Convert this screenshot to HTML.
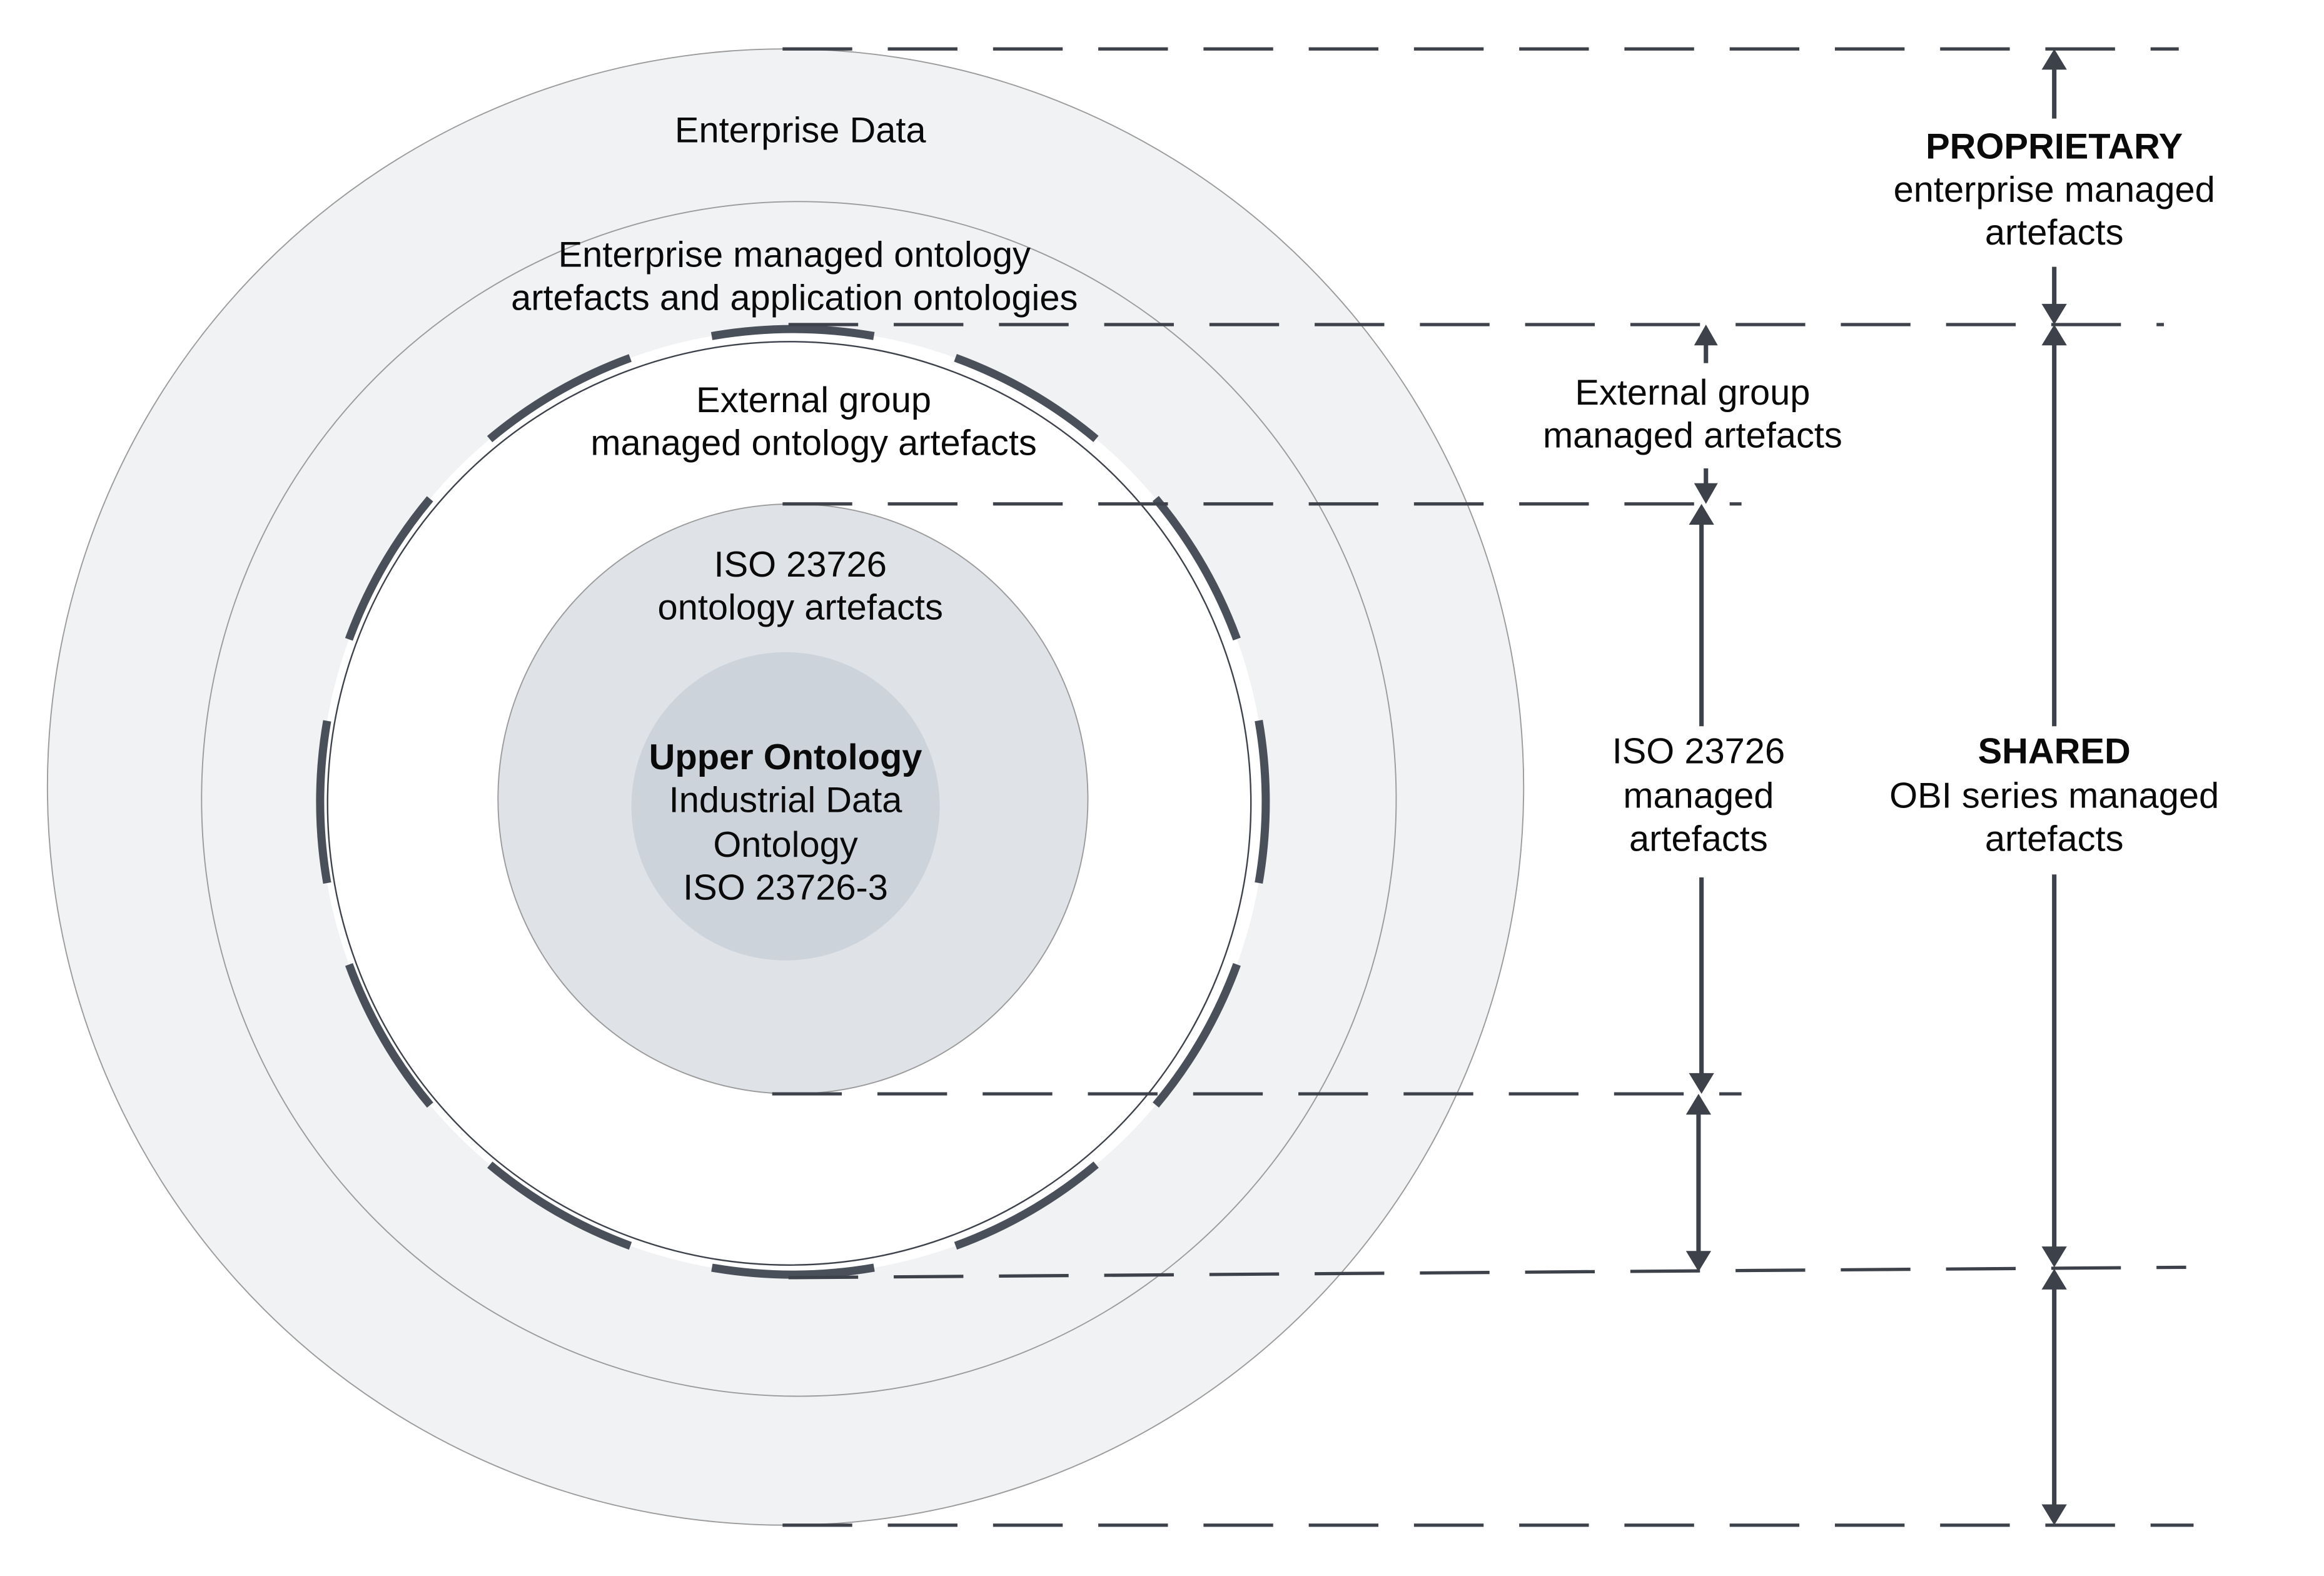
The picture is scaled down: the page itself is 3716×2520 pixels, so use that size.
<!DOCTYPE html>
<html><head><meta charset="utf-8"><style>
html,body{margin:0;padding:0;background:#fff;}
svg{display:block;}
text{font-family:"Liberation Sans",Arial,sans-serif;font-size:24.4px;fill:#0a0a0a;text-anchor:middle;}
.b{font-weight:bold;}
.d{stroke:#3d424a;stroke-width:2.2;stroke-dasharray:47 24;fill:none;}
.a{stroke:#3d424a;stroke-width:3;fill:none;}
.h{fill:#3d424a;}
</style></head><body>
<svg width="3716" height="2520" viewBox="0 0 1568 1063.3" preserveAspectRatio="none" xmlns="http://www.w3.org/2000/svg">
<rect width="1568" height="1063.3" fill="#fff"/>
<circle cx="530" cy="531" r="498" fill="#f1f2f3" stroke="#9b9b9b" stroke-width="0.8"/>
<circle cx="539" cy="539" r="403" fill="#f1f2f3" stroke="#9b9b9b" stroke-width="0.8"/>
<circle cx="535" cy="541" r="319" fill="#fff"/>
<circle cx="532.5" cy="542" r="311.5" fill="#fff" stroke="#3d424a" stroke-width="1"/>
<circle cx="535" cy="541" r="319" fill="none" stroke="#4a505a" stroke-width="5.5" stroke-dasharray="110 57" stroke-dashoffset="55"/>
<circle cx="535" cy="539" r="199" fill="#dfe2e6" stroke="#9b9b9b" stroke-width="0.8"/>
<circle cx="530" cy="544" r="104" fill="#cdd3db"/>

<line class="d" x1="528" y1="33" x2="1470" y2="33"/>
<line class="d" x1="532" y1="219" x2="1460" y2="219"/>
<line class="d" x1="528" y1="340" x2="1175" y2="340"/>
<line class="d" x1="521" y1="738" x2="1175" y2="738"/>
<line class="d" x1="532" y1="862" x2="1475" y2="855"/>
<line class="d" x1="528" y1="1029" x2="1480" y2="1029"/>

<line class="a" x1="1386" y1="45" x2="1386" y2="80"/>
<polygon class="h" points="1377.5,47 1386,33 1394.5,47"/>
<line class="a" x1="1386" y1="180" x2="1386" y2="207"/>
<polygon class="h" points="1377.5,205 1386,219 1394.5,205"/>

<line class="a" x1="1386" y1="231" x2="1386" y2="490"/>
<polygon class="h" points="1377.5,233 1386,219 1394.5,233"/>
<line class="a" x1="1386" y1="590" x2="1386" y2="843"/>
<polygon class="h" points="1377.5,841 1386,855 1394.5,841"/>

<line class="a" x1="1386" y1="868" x2="1386" y2="1017"/>
<polygon class="h" points="1377.5,870 1386,856 1394.5,870"/>
<polygon class="h" points="1377.5,1015 1386,1029 1394.5,1015"/>

<line class="a" x1="1151" y1="231" x2="1151" y2="245"/>
<polygon class="h" points="1143,233 1151,219 1159,233"/>
<line class="a" x1="1151" y1="316" x2="1151" y2="328"/>
<polygon class="h" points="1143,326 1151,340 1159,326"/>

<line class="a" x1="1148" y1="352" x2="1148" y2="490"/>
<polygon class="h" points="1139.5,354 1148,340 1156.5,354"/>
<line class="a" x1="1148" y1="592" x2="1148" y2="726"/>
<polygon class="h" points="1139.5,724 1148,738 1156.5,724"/>

<line class="a" x1="1146" y1="750" x2="1146" y2="846"/>
<polygon class="h" points="1137.5,752 1146,738 1154.5,752"/>
<polygon class="h" points="1137.5,844 1146,858 1154.5,844"/>

<text x="540" y="96">Enterprise Data</text>
<text x="536" y="180">Enterprise managed ontology</text>
<text x="536" y="209">artefacts and application ontologies</text>
<text x="549" y="278">External group</text>
<text x="549" y="307">managed ontology artefacts</text>
<text x="540" y="389">ISO 23726</text>
<text x="540" y="418">ontology artefacts</text>
<text class="b" x="530" y="519">Upper Ontology</text>
<text x="530" y="548">Industrial Data</text>
<text x="530" y="578">Ontology</text>
<text x="530" y="607">ISO 23726-3</text>
<text class="b" x="1386" y="107">PROPRIETARY</text>
<text x="1386" y="136">enterprise managed</text>
<text x="1386" y="165">artefacts</text>
<text x="1142" y="273">External group</text>
<text x="1142" y="302">managed artefacts</text>
<text x="1146" y="515">ISO 23726</text>
<text x="1146" y="545">managed</text>
<text x="1146" y="574">artefacts</text>
<text class="b" x="1386" y="515">SHARED</text>
<text x="1386" y="545">OBI series managed</text>
<text x="1386" y="574">artefacts</text>
</svg>
</body></html>
